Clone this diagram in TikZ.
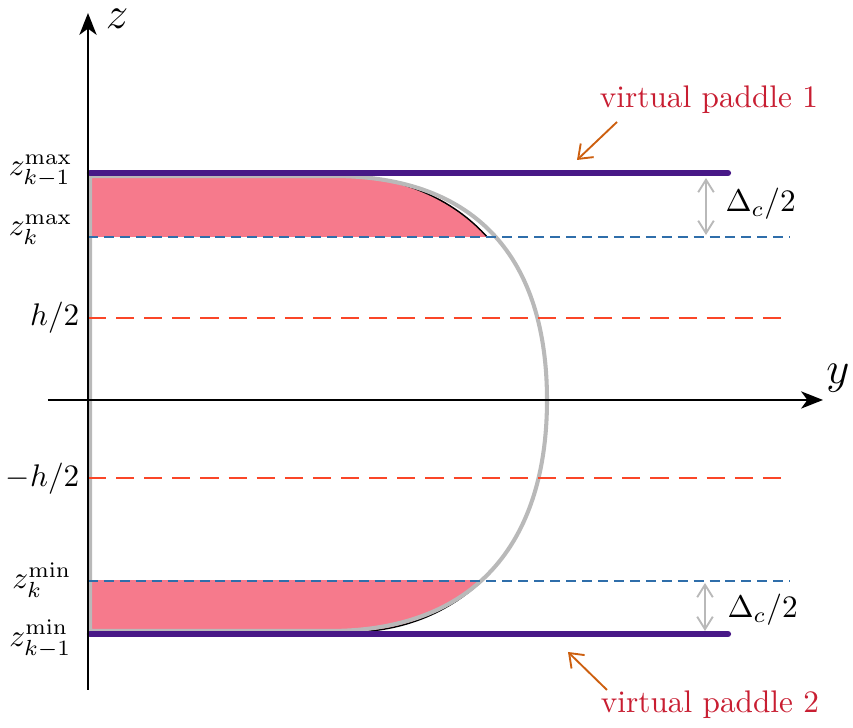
\documentclass[tikz,border=0pt]{standalone}
\usetikzlibrary{arrows.meta}
\definecolor{paddle}{RGB}{72,24,135}
\definecolor{pinkfill}{RGB}{246,122,140}
\definecolor{bluedash}{RGB}{47,110,170}
\definecolor{reddash}{RGB}{250,70,40}
\definecolor{labelred}{RGB}{200,30,50}
\definecolor{arroworange}{RGB}{205,95,15}
\definecolor{curvegray}{RGB}{185,185,185}
\begin{document}
\begin{tikzpicture}[x=0.32pt,y=0.32pt,
  axisline/.style={line width=0.7pt,-{Stealth[length=7pt,width=5.5pt,inset=2pt]}},
  paddleline/.style={draw=paddle,line width=2pt,line cap=round},
  bluedashed/.style={draw=bluedash,line width=0.8pt,dash pattern=on 3.2pt off 1.9pt},
  reddashed/.style={draw=reddash,line width=0.8pt,dash pattern=on 5.8pt off 3.2pt},
  profile/.style={draw=curvegray,line width=1.3pt},
  edgecurve/.style={draw=black,line width=0.45pt},
  pointer/.style={draw=arroworange,line width=0.6pt,-{Straight Barb[length=4pt,width=6pt]}},
  gap/.style={draw=curvegray,line width=0.6pt,{Straight Barb[length=4pt,width=5pt]}-{Straight Barb[length=4pt,width=5pt]}},
  paddlelabel/.style={text=labelred,inner sep=0pt},
  ticklabel/.style={anchor=east,inner sep=0pt},
  axislabel/.style={inner sep=0pt,font=\Large}
]
\useasboundingbox (-88,-328) rectangle (765,400);

% pink regions
\begin{scope}
  \clip (0,163) rectangle (600,227);
  \fill[pinkfill] (0,0) -- (0,227) -- (238,227) .. controls (375,227) and (453,140) .. (453,0) -- cycle;
  \draw[edgecurve] (238,226) .. controls (375,226) and (453,140) .. (453,0);
\end{scope}
\begin{scope}
  \clip (0,-181) rectangle (600,-233);
  \fill[pinkfill] (0,0) -- (462,0) .. controls (462,-150) and (370,-232) .. (262,-232) -- (0,-232) -- cycle;
  \draw[edgecurve] (462,0) .. controls (462,-150) and (370,-232) .. (262,-232);
\end{scope}

% gray profile
\draw[profile] (2,224) -- (245,224) .. controls (390,224) and (459,140) .. (459,0)
  .. controls (459,-145) and (385,-231) .. (242,-231) -- (2,-231) -- cycle;

% dashed lines
\coordinate (bt0) at (0,163);   \coordinate (bt1) at (702,163);
\coordinate (bb0) at (0,-181);  \coordinate (bb1) at (702,-181);
\coordinate (rt0) at (0,82);    \coordinate (rt1) at (702,82);
\coordinate (rb0) at (0,-78);   \coordinate (rb1) at (702,-78);
\draw[bluedashed] (bt0) -- (bt1);
\draw[bluedashed] (bb0) -- (bb1);
\draw[reddashed] (rt0) -- (rt1);
\draw[reddashed] (rb0) -- (rb1);

% paddles
\coordinate (pt0) at (2,227);   \coordinate (pt1) at (640,227);
\coordinate (pb0) at (2,-234);  \coordinate (pb1) at (640,-234);
\draw[paddleline] (pt0) -- (pt1);
\draw[paddleline] (pb0) -- (pb1);

% axes
\coordinate (zb) at (0,-290); \coordinate (zt) at (0,387);
\coordinate (yl) at (-40,0);  \coordinate (yr) at (735,0);
\draw[axisline] (zb) -- (zt);
\draw[axisline] (yl) -- (yr);
\node[axislabel] (zlab) at (29,381) {$z$};
\node[axislabel] (ylab) at (750,22) {$y$};

% tick labels
\node[ticklabel] (l1) at (-15,229) {$z^{\max}_{k-1}$};
\node[ticklabel] (l2) at (-15,170) {$z^{\max}_{k}$};
\node[ticklabel] (l3) at (-8,82) {$h/2$};
\node[ticklabel] (l4) at (-8,-79) {$-h/2$};
\node[ticklabel] (l5) at (-16,-180) {$z^{\min}_{k}$};
\node[ticklabel] (l6) at (-16,-239) {$z^{\min}_{k-1}$};

% gap arrows
\coordinate (g1a) at (618,222); \coordinate (g1b) at (618,165);
\coordinate (g2a) at (617,-183); \coordinate (g2b) at (617,-231);
\draw[gap] (g1a) -- (g1b);
\draw[gap] (g2a) -- (g2b);
\node[anchor=west,inner sep=0pt] (d1) at (637,196) {$\Delta_c/2$};
\node[anchor=west,inner sep=0pt] (d2) at (639,-210) {$\Delta_c/2$};

% paddle labels
\node[paddlelabel] (vp1) at (621,300) {virtual paddle 1};
\node[paddlelabel] (vp2) at (622,-305) {virtual paddle 2};
\coordinate (a1s) at (529,278); \coordinate (a1e) at (489,240);
\coordinate (a2s) at (519,-290); \coordinate (a2e) at (480,-252);
\draw[pointer] (a1s) -- (a1e);
\draw[pointer] (a2s) -- (a2e);
\end{tikzpicture}
\end{document}
